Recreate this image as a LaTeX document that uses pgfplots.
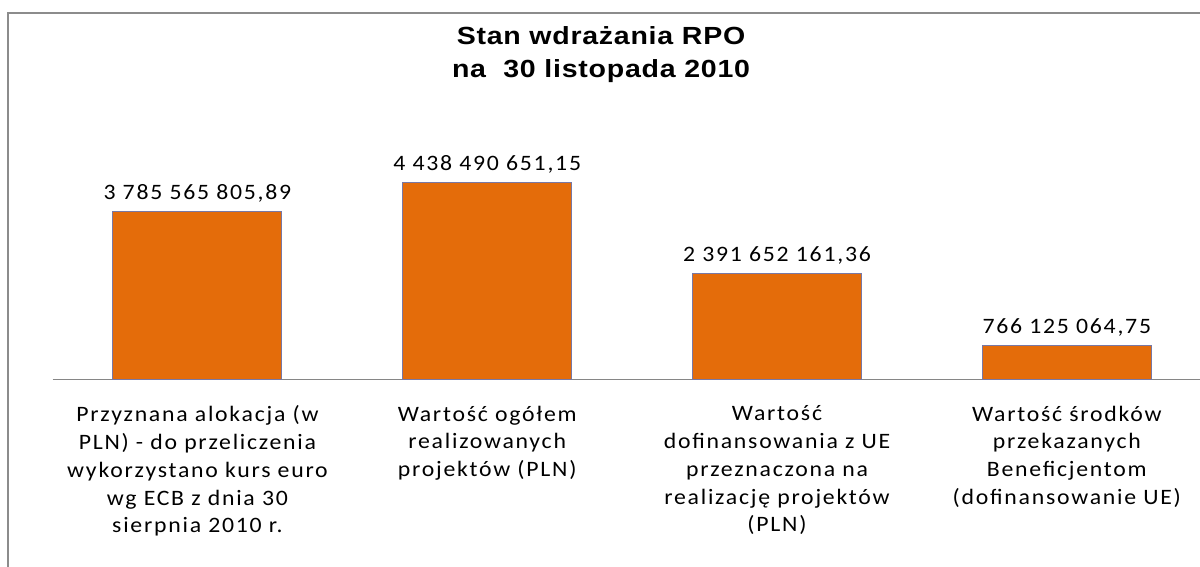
\documentclass[border=0pt]{standalone}
\usepackage{fontspec}
\usepackage{pgfplots}
\usepackage{pgfplotstable}
\pgfplotsset{compat=1.18}
\newfontfamily\calib[LetterSpace=8,FakeStretch=1.08]{Carlito}
\newfontfamily\arialf[LetterSpace=3,FakeStretch=1.15]{Liberation Sans}
\definecolor{barorange}{RGB}{228,108,10}
\definecolor{barborder}{RGB}{120,120,165}
\definecolor{basegray}{RGB}{134,134,134}
\definecolor{framegray}{RGB}{140,140,140}
\pgfplotstableread[col sep=semicolon,row sep=\\]{
x;y;label\\
0;3785565805.89;3 785 565 805,89\\
1;4438490651.15;4 438 490 651,15\\
2;2391652161.36;2 391 652 161,36\\
3;766125064.75;766 125 064,75\\
}\datatable
\begin{document}
\begin{tikzpicture}[x=1pt,y=1pt]
\useasboundingbox (0,0) rectangle (600,283.5);
\clip (0,0) rectangle (600,283.5);
\draw[framegray, line width=0.7pt] (4,-5) -- (4,277) -- (610,277);
\node[font=\arialf\bfseries\fontsize{12.4}{14}\selectfont, anchor=base] at (300.5,261) {Stan wdrażania RPO};
\node[font=\arialf\bfseries\fontsize{12.4}{14}\selectfont, anchor=base] at (300.5,244.5) {na\ \ 30 listopada 2010};
\begin{axis}[
  at={(26.25pt,93.5pt)}, anchor=south west,
  scale only axis, width=579.6pt, height=111.1pt,
  xmin=-0.5, xmax=3.5, ymin=0, ymax=5e9,
  axis y line=none,
  axis x line*=bottom,
  x axis line style={draw=basegray, line width=0.5pt, -},
  xtick={0,1,2,3}, major tick length=0pt,
  xticklabels={
    {Przyznana alokacja (w\\PLN) - do przeliczenia\\wykorzystano kurs euro\\wg ECB z dnia 30\\sierpnia 2010 r.},
    {Wartość ogółem\\realizowanych\\projektów (PLN)},
    {Wartość\\dofinansowania z UE\\przeznaczona na\\realizację projektów\\(PLN)},
    {Wartość środków\\przekazanych\\Beneficjentom\\(dofinansowanie UE)}},
  xticklabel style={font=\calib\fontsize{11}{13.85}\selectfont, align=center, anchor=north, inner sep=0pt, yshift=-12.75pt},
  ybar, bar width=84.5pt,
  nodes near coords,
  point meta=explicit symbolic,
  every node near coord/.append style={font=\calib\fontsize{11}{13}\selectfont, anchor=base, inner sep=0pt, yshift=6pt, text=black},
  clip=false,
]
\addplot[fill=barorange, draw=barborder, line width=0.5pt] table[x=x, y=y, meta=label] {\datatable};
\end{axis}
\end{tikzpicture}
\end{document}
